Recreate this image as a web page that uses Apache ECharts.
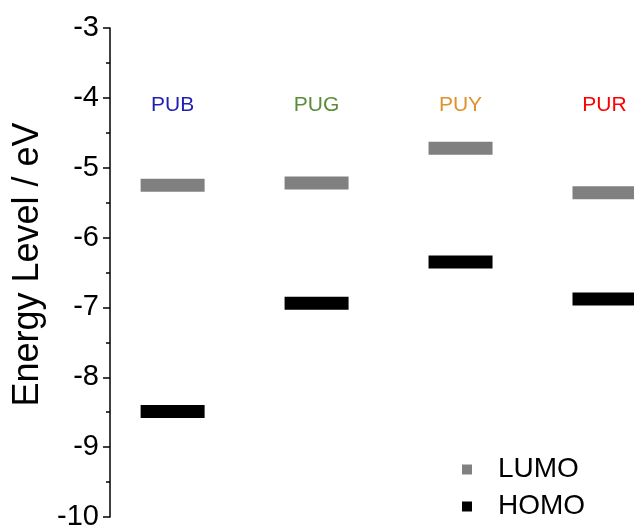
<!DOCTYPE html>
<html>
<head>
<meta charset="utf-8">
<script src="https://cdn.jsdelivr.net/npm/echarts@6/dist/echarts.min.js"></script>
<style>
  html, body { margin: 0; padding: 0; background: #fff; }
  #chart { width: 634px; height: 530px; }
</style>
</head>
<body>
<div id="chart"></div>
<script>
// Frontier orbital energy levels (eV) of the four materials
const categories = ['PUB', 'PUG', 'PUY', 'PUR'];
const lumo = [-5.25, -5.22, -4.72, -5.36];
const homo = [-8.49, -6.94, -6.35, -6.88];
const yTicks = [-10, -9, -8, -7, -6, -5, -4, -3];

// Label colour for each material name
const nameColors = ['#1f1fb4', '#5b8c3c', '#e0922f', '#ff0000'];

const FONT = 'Liberation Sans, Arial, sans-serif';
const LABEL_LEVEL = -4.1;   // energy at which the material names sit

const chart = echarts.init(document.getElementById('chart'), null, { renderer: 'canvas' });

const levelData = arr => arr.map((v, i) => [i + 1, v]);

chart.setOption({
  animation: false,
  backgroundColor: '#ffffff',
  grid: { left: 110, top: 28, bottom: 13, right: 0, containLabel: false, outerBoundsMode: 'none' },
  xAxis: {
    type: 'value',
    min: 0.565,
    max: 4.205,
    show: false
  },
  yAxis: {
    type: 'value',
    min: yTicks[0],
    max: yTicks[yTicks.length - 1],
    interval: 1,
    name: 'Energy Level / eV',
    nameLocation: 'middle',
    nameGap: 51,
    nameTextStyle: { fontFamily: FONT, fontSize: 36, color: '#000', padding: [0, 0, 0, 16] },
    axisLine: { show: true, lineStyle: { color: '#000', width: 1.5 } },
    axisTick: { show: true, length: 7, lineStyle: { color: '#000', width: 1.5 } },
    minorTick: { show: true, splitNumber: 2, length: 4, lineStyle: { color: '#000', width: 1.5 } },
    splitLine: { show: false },
    axisLabel: { fontFamily: FONT, fontSize: 29, color: '#000', margin: 11 }
  },
  legend: {
    orient: 'vertical',
    left: 457,
    top: 450,
    icon: 'rect',
    itemWidth: 10,
    itemHeight: 10,
    itemGap: 8,
    data: ['LUMO', 'HOMO'],
    textStyle: { fontFamily: FONT, fontSize: 28, color: '#000', lineHeight: 29, padding: [0, 0, 0, 21] }
  },
  series: [
    {
      name: 'LUMO',
      type: 'scatter',
      symbol: 'rect',
      symbolSize: [64, 13],
      itemStyle: { color: '#808080', opacity: 1 },
      data: levelData(lumo)
    },
    {
      name: 'HOMO',
      type: 'scatter',
      symbol: 'rect',
      symbolSize: [64, 13],
      itemStyle: { color: '#000000', opacity: 1 },
      data: levelData(homo)
    },
    {
      name: 'names',
      type: 'scatter',
      symbolSize: 0,
      silent: true,
      itemStyle: { opacity: 1 },
      data: categories.map((c, i) => ({
        value: [i + 1, LABEL_LEVEL],
        label: {
          show: true,
          position: 'inside',
          formatter: c,
          fontFamily: FONT,
          fontSize: 21,
          color: nameColors[i]
        }
      }))
    }
  ]
});
</script>
</body>
</html>
